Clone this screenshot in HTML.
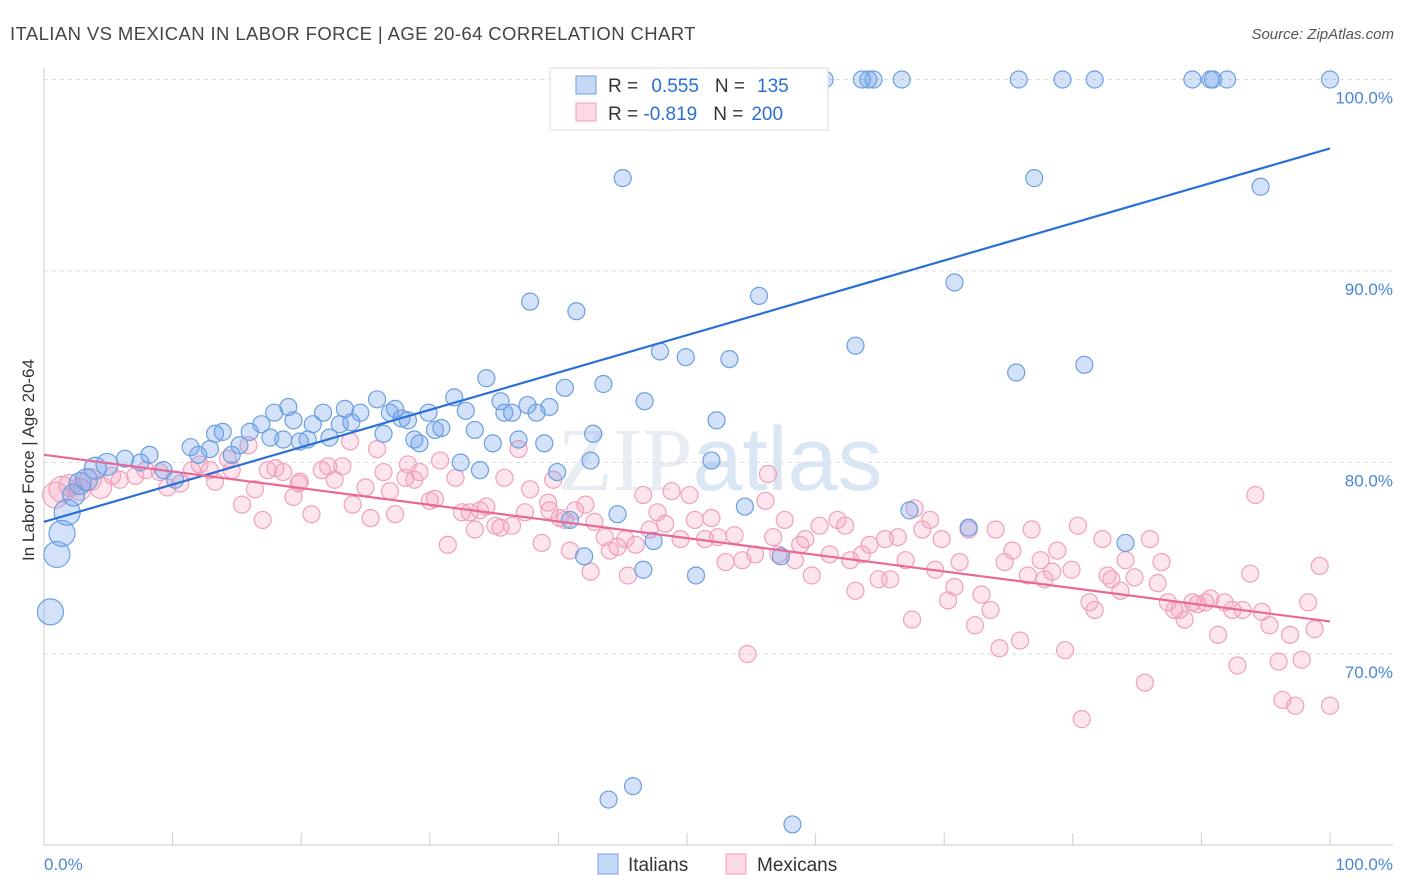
<!DOCTYPE html>
<html><head><meta charset="utf-8"><style>
body{margin:0;background:#fff;font-family:"Liberation Sans",sans-serif;}
#c{position:relative;width:1406px;height:892px;overflow:hidden;}
</style></head><body>
<div id="c">
<svg id="s" width="1406" height="892" xmlns="http://www.w3.org/2000/svg">
<text x="10" y="40" font-size="18.5" letter-spacing="0.4" fill="#444">ITALIAN VS MEXICAN IN LABOR FORCE | AGE 20-64 CORRELATION CHART</text>
<text x="1394" y="39" font-size="15" fill="#555" font-style="italic" text-anchor="end">Source: ZipAtlas.com</text>
<text x="720" y="490" font-size="90" fill="#e8edf3" text-anchor="middle" font-family="Liberation Serif">ZIP<tspan font-family="Liberation Sans" fill="#dbe6f4">atlas</tspan></text>
<g id="grid"></g>
<line x1="44" y1="68" x2="44" y2="845" stroke="#ccc"/>
<line x1="44" y1="845" x2="1393" y2="845" stroke="#ccc"/>
<g id="xt"></g>
<text x="34" y="460" font-size="17" fill="#333" text-anchor="middle" transform="rotate(-90 34 460)">In Labor Force | Age 20-64</text>
<text x="44" y="870" font-size="17" fill="#4a86d8">0.0%</text>
<text x="1393" y="870" font-size="17" fill="#4a86d8" text-anchor="end">100.0%</text>
<g id="pink"></g>
<g id="blue"></g>
<g id="trend"></g>
<g>
<rect x="550" y="68" width="278" height="62" fill="#fff" stroke="#ddd"/>
<rect x="576" y="76" width="20" height="18" fill="rgba(110,160,235,0.4)" stroke="#6b9fe0"/>
<rect x="576" y="103" width="20" height="18" fill="rgba(245,160,190,0.4)" stroke="#f0a0bb"/>
<text x="608" y="92" font-size="19" fill="#333">R = <tspan fill="#2a6fd6" dx="8">0.555</tspan><tspan dx="16">N =</tspan><tspan fill="#2a6fd6" dx="12">135</tspan></text>
<text x="608" y="120" font-size="19" fill="#333">R = <tspan fill="#2a6fd6">-0.819</tspan><tspan dx="16">N =</tspan><tspan fill="#2a6fd6" dx="8">200</tspan></text>
</g>
<g>
<rect x="598" y="854" width="20" height="20" fill="rgba(110,160,235,0.4)" stroke="#6b9fe0"/>
<text x="628" y="871" font-size="19" fill="#333">Italians</text>
<rect x="726" y="854" width="20" height="20" fill="rgba(245,160,190,0.4)" stroke="#f0a0bb"/>
<text x="757" y="871" font-size="19" fill="#333">Mexicans</text>
</g>
</svg>
</div>
<script>
const yTicks=[100,90,80,70];
const yTickLabels=["100.0%","90.0%","80.0%","70.0%"];
const xTicks=[10,20,30,40,50,60,70,80,90,100];
const blueX=[42.8,44.8,47.5,51.0,51.4,55.7,56.5,60.7,63.6,64.1,64.5,66.7,75.8,79.2,81.7,89.3,90.7,90.9,92.0,100,
45.0,77.0,94.6,37.8,41.4,55.6,70.8,47.9,49.9,53.3,63.1,75.6,80.9,34.4,40.5,43.5,46.7,52.3,42.7,42.5,51.9,39.9,32.4,33.9,40.9,44.6,42.0,46.6,47.4,50.7,54.5,57.3,67.3,71.9,84.1,43.9,45.8,58.2,
0.5,1.0,1.4,1.8,2.3,2.8,3.3,4.0,4.9,6.3,7.5,8.2,9.3,10.2,11.4,12.0,12.9,13.3,13.9,14.6,15.2,16.0,16.9,17.6,17.9,18.6,19.0,19.4,19.9,20.5,20.9,21.7,22.2,23.0,23.4,23.9,24.6,25.9,26.4,26.9,27.3,27.8,28.3,28.8,29.2,29.9,30.4,30.9,31.9,32.8,33.5,34.9,35.5,35.8,36.4,36.9,37.6,38.3,38.9,39.3];
const blueY=[100,100,100,100,100,100,100,100,100,100,100,100,100,100,100,100,100,100,100,100,
94.85,94.85,94.4,88.4,87.9,88.7,89.4,85.8,85.5,85.4,86.1,84.7,85.1,84.4,83.9,84.1,83.2,82.2,81.5,80.1,80.1,79.5,80.0,79.6,77.0,77.3,75.1,74.4,75.9,74.1,77.7,75.1,77.5,76.6,75.8,62.4,63.1,61.1,
72.2,75.2,76.3,77.4,78.3,78.9,79.1,79.7,79.9,80.2,80.0,80.4,79.6,79.1,80.8,80.4,80.7,81.5,81.6,80.4,80.9,81.6,82.0,81.3,82.6,81.2,82.9,82.2,81.1,81.2,82.0,82.6,81.3,82.0,82.8,82.1,82.6,83.3,81.5,82.6,82.8,82.3,82.2,81.2,81.0,82.6,81.7,81.8,83.4,82.7,81.7,81.0,83.2,82.6,82.6,81.2,83.0,82.6,81.0,82.9];
const pinkX=[0.9,1.4,2.0,2.8,3.6,4.4,5.3,5.9,7.1,7.9,9.0,9.6,10.6,11.5,12.1,12.9,13.3,14.3,14.6,15.4,15.9,16.4,17.0,17.4,18.0,18.6,19.4,19.8,19.9,20.8,21.6,22.1,22.6,23.2,23.8,24.0,25.0,25.4,25.9,26.4,26.9,27.3,28.1,28.3,28.8,29.2,30.0,30.4,30.8,31.4,32.0,32.5,33.1,33.5,33.9,34.4,35.1,35.5,35.8,36.4,36.9,37.4,37.8,38.7,39.2,39.3,39.6,40.1,40.5,40.9,41.3,42.1,42.5,42.8,43.6,44.0,44.6,45.2,45.4,46.0,46.6,47.1,47.7,48.3,48.8,49.5,50.2,50.6,51.4,51.9,52.4,53.0,53.7,54.3,54.7,55.3,56.1,56.3,56.7,57.1,57.6,58.4,58.8,59.2,59.7,60.3,61.1,61.7,62.3,62.7,63.1,63.6,64.2,64.9,65.4,65.8,66.4,67.0,67.5,67.7,68.3,68.9,69.3,69.8,70.3,70.8,71.2,71.9,72.4,72.9,73.6,74.0,74.3,74.7,75.3,75.9,76.5,76.8,77.5,77.8,78.4,78.8,79.4,79.9,80.4,80.7,81.3,81.7,82.3,82.7,83.0,83.7,84.1,84.8,85.6,86.0,86.6,86.9,87.4,87.9,88.3,88.7,89.3,89.7,90.3,90.7,91.3,91.8,92.4,92.8,93.2,93.8,94.2,94.7,95.3,96.0,96.3,96.9,97.3,97.8,98.3,98.8,99.2,100];
const pinkY=[78.3,78.6,78.8,78.6,79.1,78.7,79.3,79.1,79.3,79.6,79.5,78.7,78.9,79.6,79.9,79.6,79.0,80.2,79.6,77.8,80.9,78.6,77.0,79.6,79.7,79.5,78.2,78.9,79.0,77.3,79.6,79.8,79.1,79.8,81.1,77.8,78.7,77.1,80.7,79.5,78.5,77.3,79.2,79.9,79.1,79.5,78.0,78.1,80.1,75.7,79.2,77.4,77.4,76.5,77.5,77.7,76.7,76.6,79.2,76.7,80.7,77.4,78.6,75.8,77.9,77.5,79.1,77.1,77.0,75.4,77.5,77.8,74.3,76.9,76.1,75.4,75.6,76.0,74.1,75.7,78.3,76.5,77.4,76.8,78.5,76.0,78.3,77.0,76.0,77.1,76.1,74.8,76.2,74.9,70.0,75.2,78.0,79.4,76.1,75.2,77.0,74.9,75.7,76.0,74.1,76.7,75.2,77.0,76.7,74.9,73.3,75.2,75.7,73.9,76.0,73.9,76.1,74.9,71.8,77.6,76.5,77.0,74.4,76.0,72.8,73.5,74.8,76.5,71.5,73.1,72.3,76.5,70.3,74.8,75.4,70.7,74.1,76.5,74.9,73.9,74.3,75.4,70.2,74.4,76.7,66.6,72.7,72.3,76.0,74.1,73.9,73.3,74.9,74.0,68.5,76.0,73.7,74.8,72.7,72.3,72.3,71.8,72.7,72.6,72.7,72.9,71.0,72.7,72.3,69.4,72.3,74.2,78.3,72.2,71.5,69.6,67.6,71.0,67.3,69.7,72.7,71.3,74.6,67.3];
const blueTrend=[76.9,96.4];
const pinkTrend=[80.4,71.7];
const NS="http://www.w3.org/2000/svg";
function sx(v){return 44+v*12.86;}
function sy(v){return 79.5+(100-v)*19.15;}
function mk(t,a){const e=document.createElementNS(NS,t);for(const k in a)e.setAttribute(k,a[k]);return e;}
const grid=document.getElementById('grid');
yTicks.forEach((v,i)=>{
 const l=mk('line',{x1:44,x2:1393,y1:sy(v),y2:sy(v),stroke:'#ddd','stroke-dasharray':'4,4'});
 
 
 grid.appendChild(l);
 const t=mk('text',{x:1393,y:sy(v)+24,'font-size':17,fill:'#4a86d8','text-anchor':'end'});
 t.textContent=yTickLabels[i];
 
 
 grid.appendChild(t);
});
const xt=document.getElementById('xt');
xTicks.forEach(v=>{
 const l=mk('line',{x1:sx(v),x2:sx(v),y1:833,y2:845,stroke:'#ccc'});
 
 
 xt.appendChild(l);
});
function rad(x){return x<2?13:(x<5?11:8.5);}
const pg=document.getElementById('pink');
pinkX.forEach((x,i)=>{
 const c=mk('circle',{cx:sx(x),cy:sy(pinkY[i]),r:rad(x),fill:'rgba(245,160,190,0.28)',stroke:'#f0a0bb','stroke-width':1.2});
 
 
 pg.appendChild(c);
});
const bg=document.getElementById('blue');
blueX.forEach((x,i)=>{
 const c=mk('circle',{cx:sx(x),cy:sy(blueY[i]),r:rad(x),fill:'rgba(110,160,235,0.3)',stroke:'#6b9fe0','stroke-width':1.2});
 
 
 bg.appendChild(c);
});
const tg=document.getElementById('trend');
const bl=mk('line',{x1:sx(0),y1:sy(blueTrend[0]),x2:sx(100),y2:sy(blueTrend[1]),stroke:'#2a6fd6','stroke-width':2.2});


tg.appendChild(bl);
const pl=mk('line',{x1:sx(0),y1:sy(pinkTrend[0]),x2:sx(100),y2:sy(pinkTrend[1]),stroke:'#e8689a','stroke-width':2.2});


tg.appendChild(pl);
</script>
</body></html>
